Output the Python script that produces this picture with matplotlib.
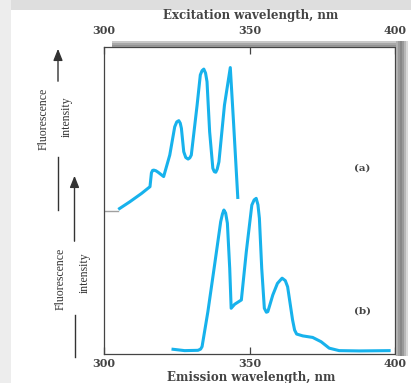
import numpy as np
import matplotlib.pyplot as plt
from matplotlib.patches import Rectangle

# excitation spectrum (a), wavelength in nm, intensity in arbitrary units
exc_nm = [304.9, 308.9, 312.9, 315.8, 316.3, 316.7, 317.1, 317.8, 318.6, 320.5,
          322.6, 324.3, 325.0, 325.7, 326.2, 326.6, 327.4, 328.1, 328.9, 329.5,
          330.0, 332.0, 333.1, 333.7, 334.3, 334.9, 335.4, 336.3, 337.4, 337.9,
          338.4, 338.9, 339.5, 341.4, 343.4, 344.5, 346.0]
exc_int = [47.1, 49.6, 52.3, 54.5, 59.0, 59.8, 59.9, 59.7, 59.2, 57.8,
           64.8, 74.0, 75.6, 76.0, 75.2, 73.5, 65.9, 64.0, 63.5, 63.9,
           64.8, 81.1, 90.9, 92.3, 92.8, 91.5, 88.7, 72.4, 60.5, 59.4,
           59.2, 60.2, 62.6, 81.1, 93.3, 75.7, 50.5]
exc_base_nm = [300, 304.9]
exc_base_int = [46.7, 46.7]

# emission spectrum (b)
emi_nm = [323.2, 327.7, 332.3, 333.2, 333.7, 335.7, 338.0, 340.1, 340.7, 341.2,
          341.8, 342.4, 343.2, 343.7, 344.9, 347.2, 348.9, 350.8, 351.6, 352.3,
          352.9, 353.4, 354.2, 355.1, 355.8, 356.3, 357.0, 358.0, 359.6, 361.2,
          362.3, 363.1, 364.8, 365.5, 366.2, 368.3, 371.7, 374.6, 377.4, 380.8,
          387.7, 398.5]
emi_int = [1.6, 1.1, 1.2, 1.6, 2.4, 13.8, 29.0, 43.1, 45.6, 46.9,
           45.9, 42.6, 27.9, 14.9, 16.2, 17.6, 33.3, 48.5, 50.2, 50.7,
           48.6, 44.2, 27.9, 14.9, 13.6, 13.8, 16.0, 19.2, 23.0, 24.7,
           23.9, 21.9, 11.1, 7.8, 6.5, 5.9, 5.4, 4.0, 1.9, 1.1,
           1.0, 1.1]

ticks = [300, 350, 400]
tick_labels = ['300', '350', '400']

W, H = 411, 383
fig = plt.figure(figsize=(W / 100, H / 100), dpi=100)
fig.patch.set_facecolor('white')

# grey page border on the top and left
fig.patches.append(Rectangle((0, 1 - 10 / H), 1, 10 / H, transform=fig.transFigure,
                             facecolor='#dedede', edgecolor='none', zorder=0))
fig.patches.append(Rectangle((0, 0), 11 / W, 1, transform=fig.transFigure,
                             facecolor='#ededed', edgecolor='none', zorder=0))

# box shadow on top and right side
shades = ['#b0b0b0', '#9a9a9a', '#888888', '#9a9a9a', '#b8b8b8', '#d8d8d8']
for i, c in enumerate(shades):
    x0 = 396 + i * 2
    fig.patches.append(Rectangle((x0 / W, 1 - 356 / H), 2 / W, (356 - 41) / H,
                                 transform=fig.transFigure, facecolor=c,
                                 edgecolor='none', zorder=0))
top_shades = ['#c8c8c8', '#a8a8a8', '#949494']
for i, c in enumerate(top_shades):
    y0 = 41 + i * 2
    fig.patches.append(Rectangle((112 / W, 1 - (y0 + 2) / H), (396 - 112) / W, 2 / H,
                                 transform=fig.transFigure, facecolor=c,
                                 edgecolor='none', zorder=0))

ax = fig.add_axes([104 / W, 1 - 354 / H, (395 - 104) / W, (354 - 47) / H])
ax.set_facecolor('white')
ax.set_xlim(300, 400)
ax.set_ylim(0, 100)

blue = '#17b2ec'
ax.plot(exc_base_nm, exc_base_int, color='#a0a0a0', lw=1.0)
ax.plot(exc_nm, exc_int, color=blue, lw=2.2, solid_joinstyle='round', solid_capstyle='butt')
ax.plot(emi_nm, emi_int, color=blue, lw=2.2, solid_joinstyle='round', solid_capstyle='butt')

for s in ax.spines.values():
    s.set_color('#444444')
    s.set_linewidth(0.9)

tick_font = dict(family='DejaVu Serif', weight='bold', size=8, color='#444444')
ax.set_yticks([])
ax.set_xticks(ticks)
ax.set_xticklabels(tick_labels, fontdict=tick_font)
ax.tick_params(axis='x', direction='in', length=5, width=0.9, color='#444444', pad=3)

top = ax.secondary_xaxis('top')
top.set_xticks(ticks)
top.set_xticklabels(tick_labels, fontdict=tick_font)
top.tick_params(axis='x', direction='in', length=5, width=0.9, color='#444444', pad=8)
top.spines['top'].set_visible(False)

title_font = dict(family='DejaVu Serif', weight='bold', size=8.5, color='#444444')
fig.text(251 / W, 1 - 15 / H, 'Excitation wavelength, nm', ha='center', va='center', **title_font)
fig.text(251 / W, 1 - 377 / H, 'Emission wavelength, nm', ha='center', va='center', **title_font)

label_font = dict(family='DejaVu Serif', weight='bold', size=7.5, color='#444444')
ax.text(388.7, (354 - 168) / 3.07, '(a)', ha='center', va='center', **label_font)
ax.text(389.0, (354 - 311) / 3.07, '(b)', ha='center', va='center', **label_font)

# left-hand intensity arrows
side_font = dict(family='Liberation Serif', size=8.5, color='#333333', rotation=90,
                 ha='center', va='center')
arrow_kw = dict(arrowstyle='-|>,head_length=0.7,head_width=0.28', color='#333333', lw=1.0)


def fy(py):
    return 1 - py / H


fig.add_artist(plt.Line2D([58 / W, 58 / W], [fy(157), fy(210)], color='#333333', lw=1.0))
ax.annotate('', xy=(58 / W, fy(46)), xytext=(58 / W, fy(84)),
            xycoords='figure fraction', textcoords='figure fraction', arrowprops=arrow_kw)
fig.text(44 / W, fy(119), 'Fluorescence', **side_font)
fig.text(67 / W, fy(117), 'intensity', **side_font)

fig.add_artist(plt.Line2D([74.5 / W, 74.5 / W], [fy(315), fy(357)], color='#333333', lw=1.0))
ax.annotate('', xy=(74.5 / W, fy(173)), xytext=(74.5 / W, fy(244)),
            xycoords='figure fraction', textcoords='figure fraction', arrowprops=arrow_kw)
fig.text(61 / W, fy(279), 'Fluorescence', **side_font)
fig.text(85 / W, fy(273), 'intensity', **side_font)

fig.savefig('out.png', dpi=100)
